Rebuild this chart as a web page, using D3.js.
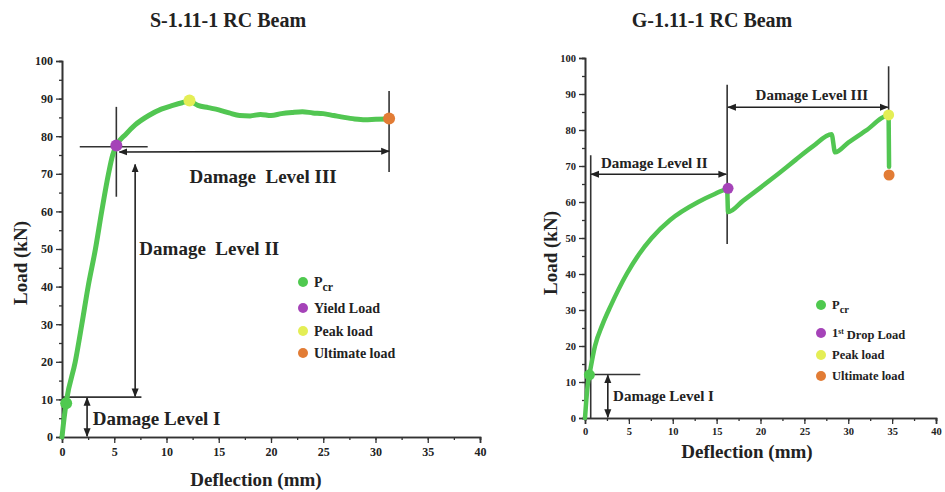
<!DOCTYPE html>
<html>
<head>
<meta charset="utf-8">
<script src="https://cdn.jsdelivr.net/npm/d3@7"></script>
<style>
  body { margin: 0; background: #fff; }
  svg text { font-family: "Liberation Serif", "Times New Roman", serif !important; font-weight: bold; fill: #222; }
</style>
</head>
<body>
<div id="chart"></div>
<script>
// S-1.11-1 beam: load-deflection curve
var sDeflection = [0, 0.2, 0.45, 1.27, 1.9, 2.5, 3.2, 3.8, 4.45, 4.85, 5.2, 6.1, 7.0, 8.3, 9.5, 10.6, 11.5, 12.2, 13.0, 14.0, 15.0, 16.0, 17.0, 18.0, 19.0, 20.0, 21.0, 22.0, 23.0, 24.0, 25.0, 26.0, 27.0, 28.0, 29.0, 30.0, 31.3];
var sLoad =       [0, 5,   10,   20,   30,  40,  50,  60,  70,   75,   77.5, 80.5, 83, 85.5, 87.2, 88.2, 88.9, 89.3, 88.2, 87.6, 87.0, 86.2, 85.5, 85.4, 85.8, 85.5, 86.0, 86.3, 86.5, 86.2, 86.0, 85.5, 85.0, 84.6, 84.4, 84.5, 84.6];
var sMarkerNames = ["Pcr", "Yield Load", "Peak load", "Ultimate load"];
var sMarkerX = [0.4, 5.2, 12.2, 31.3];
var sMarkerY = [9, 77.5, 89.5, 84.7];

// G-1.11-1 beam: load-deflection curve
var gDeflection = [0, 0.15, 0.35, 0.5, 1.14, 2.0, 2.9, 4.75, 6.1, 7.6, 9.7, 12.9, 14.6, 16.2, 16.3, 18.0, 20.0, 22.0, 24.0, 26.0, 28.1, 28.5, 30.0, 32.0, 34.6, 34.65];
var gLoad =       [0, 5,    10,   12,  20,   26,  31,  40,   45.3, 50,  55,  60,   62,   63.5, 57.2, 60.3, 64, 67.8, 71.7, 75.5, 78.8, 73.8, 76.5, 79.8, 84.0, 69.8];
var gMarkerNames = ["Pcr", "1st Drop Load", "Peak load", "Ultimate load"];
var gMarkerX = [0.5, 16.3, 34.6, 34.65];
var gMarkerY = [12, 63.8, 84.2, 67.5];

var markerColors = ["#4fc94f", "#a543b8", "#e4ee55", "#e27c35"];
var xTicks = [0, 5, 10, 15, 20, 25, 30, 35, 40];
var yTicks = [0, 10, 20, 30, 40, 50, 60, 70, 80, 90, 100];
var serif = '"Liberation Serif", "Times New Roman", serif';

var svg = d3.select("#chart").append("svg")
    .attr("width", 945)
    .attr("height", 492);

svg.append("defs").append("marker")
    .attr("id", "arrow")
    .attr("viewBox", "0 0 10 10")
    .attr("refX", 9).attr("refY", 5)
    .attr("markerWidth", 5.5).attr("markerHeight", 5.5)
    .attr("orient", "auto-start-reverse")
    .append("path")
    .attr("d", "M0,1L10,5L0,9z")
    .attr("fill", "#222");

function drawChart(cfg) {
    var g = svg.append("g");
    var x = d3.scaleLinear().domain([0, 40]).range(cfg.xRange);
    var y = d3.scaleLinear().domain([0, 100]).range(cfg.yRange);

    g.append("text")
        .attr("x", cfg.titleX).attr("y", 27)
        .attr("text-anchor", "middle")
        .style("font-size", "20px")
        .text(cfg.title);

    // minor ticks
    var xAxisMinor = d3.axisBottom(x).tickValues(d3.range(0, 40.1, 2.5)).tickSize(3).tickFormat("");
    var yAxisMinor = d3.axisLeft(y).tickValues(d3.range(0, 100.1, 5)).tickSize(3).tickFormat("");
    g.append("g").attr("transform", "translate(0," + cfg.yRange[0] + ")").call(xAxisMinor);
    g.append("g").attr("transform", "translate(" + cfg.xRange[0] + ",0)").call(yAxisMinor);

    var xAxis = d3.axisBottom(x).tickValues(xTicks).tickSize(6).tickPadding(4);
    var yAxis = d3.axisLeft(y).tickValues(yTicks).tickSize(6).tickPadding(3);
    var xa = g.append("g").attr("transform", "translate(0," + cfg.yRange[0] + ")").call(xAxis);
    var ya = g.append("g").attr("transform", "translate(" + cfg.xRange[0] + ",0)").call(yAxis);
    [xa, ya].forEach(function (a) {
        a.attr("font-family", serif);
        a.selectAll("text")
            .style("font-family", serif)
            .style("font-size", cfg.tickFont)
            .attr("fill", "#333");
    });
    if (cfg.zeroColor) {
        xa.selectAll(".tick text").filter(function (d) { return d === 0; }).attr("fill", cfg.zeroColor);
    }
    g.selectAll(".domain").attr("stroke", "#333").attr("stroke-width", 1.6);
    g.selectAll(".tick line").attr("stroke", "#333").attr("stroke-width", 1.3);

    g.append("text")
        .attr("x", cfg.xLabelX)
        .attr("y", cfg.xLabelY)
        .attr("text-anchor", "middle")
        .style("font-family", serif)
        .style("font-size", "19px")
        .text("Deflection (mm)");

    g.append("text")
        .attr("transform", "translate(" + cfg.yLabelX + "," + cfg.yLabelY + ") rotate(-90)")
        .attr("text-anchor", "middle")
        .style("font-family", serif)
        .style("font-size", "19px")
        .text("Load (kN)");

    // annotation lines
    cfg.lines.forEach(function (l) {
        g.append("line")
            .attr("x1", x(l[0])).attr("y1", y(l[1]))
            .attr("x2", x(l[2])).attr("y2", y(l[3]))
            .attr("stroke", "#333").attr("stroke-width", 1.6);
    });
    cfg.arrows.forEach(function (l) {
        g.append("line")
            .attr("x1", x(l[0])).attr("y1", y(l[1]))
            .attr("x2", x(l[2])).attr("y2", y(l[3]))
            .attr("stroke", "#222").attr("stroke-width", 1.6)
            .attr("marker-start", "url(#arrow)")
            .attr("marker-end", "url(#arrow)");
    });

    // curve
    var pts = cfg.xs.map(function (v, i) { return [v, cfg.ys[i]]; });
    var line = d3.line()
        .x(function (d) { return x(d[0]); })
        .y(function (d) { return y(d[1]); })
        .curve(d3.curveMonotoneX);
    g.append("path")
        .datum(pts)
        .attr("d", line)
        .attr("fill", "none")
        .attr("stroke", "#52c652")
        .attr("stroke-width", cfg.lineWidth)
        .attr("stroke-linejoin", "round")
        .attr("stroke-linecap", "round");

    cfg.mx.forEach(function (v, i) {
        g.append("circle")
            .attr("cx", x(v)).attr("cy", y(cfg.my[i]))
            .attr("r", cfg.markerR)
            .attr("fill", markerColors[i]);
    });

    // labels for damage levels
    cfg.labels.forEach(function (l) {
        g.append("text")
            .attr("x", x(l[0])).attr("y", y(l[1]))
            .attr("dy", "0.35em")
            .attr("text-anchor", l[3])
            .attr("xml:space", "preserve")
            .style("white-space", "pre")
            .style("font-family", serif)
            .style("font-size", l[4])
            .text(l[2]);
    });

    // legend
    var leg = g.append("g");
    cfg.names.forEach(function (n, i) {
        var ly = cfg.legY[i];
        leg.append("circle")
            .attr("cx", cfg.legX).attr("cy", ly)
            .attr("r", cfg.legR)
            .attr("fill", markerColors[i]);
        var t = leg.append("text")
            .attr("x", cfg.legX + 11).attr("y", ly)
            .attr("dy", "0.35em")
            .style("font-family", serif)
            .style("font-size", cfg.legFont);
        if (n === "Pcr") {
            t.text("P");
            t.append("tspan").attr("dy", "0.35em").style("font-size", "0.85em").text("cr");
        } else if (n === "1st Drop Load") {
            t.text("1");
            t.append("tspan").attr("dy", "-0.4em").style("font-size", "0.6em").text("st");
            t.append("tspan").attr("dy", "0.4em").text(" Drop Load");
        } else {
            t.text(n);
        }
    });
}

drawChart({
    title: "S-1.11-1 RC Beam", titleX: 228,
    xRange: [62, 480], yRange: [437, 61],
    xs: sDeflection, ys: sLoad, mx: sMarkerX, my: sMarkerY,
    names: sMarkerNames,
    tickFont: "12px",
    lineWidth: 5, markerR: 6,
    xLabelX: 256, xLabelY: 486, yLabelX: 27, yLabelY: 263,
    lines: [
        [1.7, 77.2, 8.2, 77.2],
        [5.2, 87.8, 5.2, 63.9],
        [31.3, 92, 31.3, 70.5],
        [0, 10.6, 7.6, 10.6]
    ],
    arrows: [
        [5.5, 75.8, 31.3, 76.0],
        [7.0, 10.8, 7.0, 72.5],
        [2.4, 10.4, 2.4, 0.2]
    ],
    labels: [
        [12.2, 69.4, "Damage  Level III", "start", "19px"],
        [7.4, 50.3, "Damage  Level II", "start", "19px"],
        [2.95, 5.0, "Damage Level I", "start", "19px"]
    ],
    legX: 303, legY: [282, 308, 331, 353], legR: 5, legFont: "14px"
});

drawChart({
    title: "G-1.11-1 RC Beam", titleX: 712,
    xRange: [585, 936], yRange: [418, 58],
    xs: gDeflection, ys: gLoad, mx: gMarkerX, my: gMarkerY,
    names: gMarkerNames,
    tickFont: "10.5px", zeroColor: "#6a5fae",
    lineWidth: 4.5, markerR: 5.5,
    xLabelX: 747, xLabelY: 458, yLabelX: 557, yLabelY: 253,
    lines: [
        [0.65, 0, 0.65, 73],
        [16.2, 92.6, 16.2, 48.3],
        [34.6, 97.7, 34.6, 84],
        [0, 12.1, 6.3, 12.1]
    ],
    arrows: [
        [0.7, 67.7, 16.1, 67.7],
        [16.3, 86.3, 34.5, 86.3],
        [2.6, 11.9, 2.6, 0.2]
    ],
    labels: [
        [7.9, 70.9, "Damage Level II", "middle", "15px"],
        [25.85, 89.9, "Damage Level III", "middle", "15px"],
        [3.2, 6.3, "Damage Level I", "start", "15px"]
    ],
    legX: 821, legY: [305, 333, 355, 376], legR: 5, legFont: "12.5px"
});
</script>
</body>
</html>
